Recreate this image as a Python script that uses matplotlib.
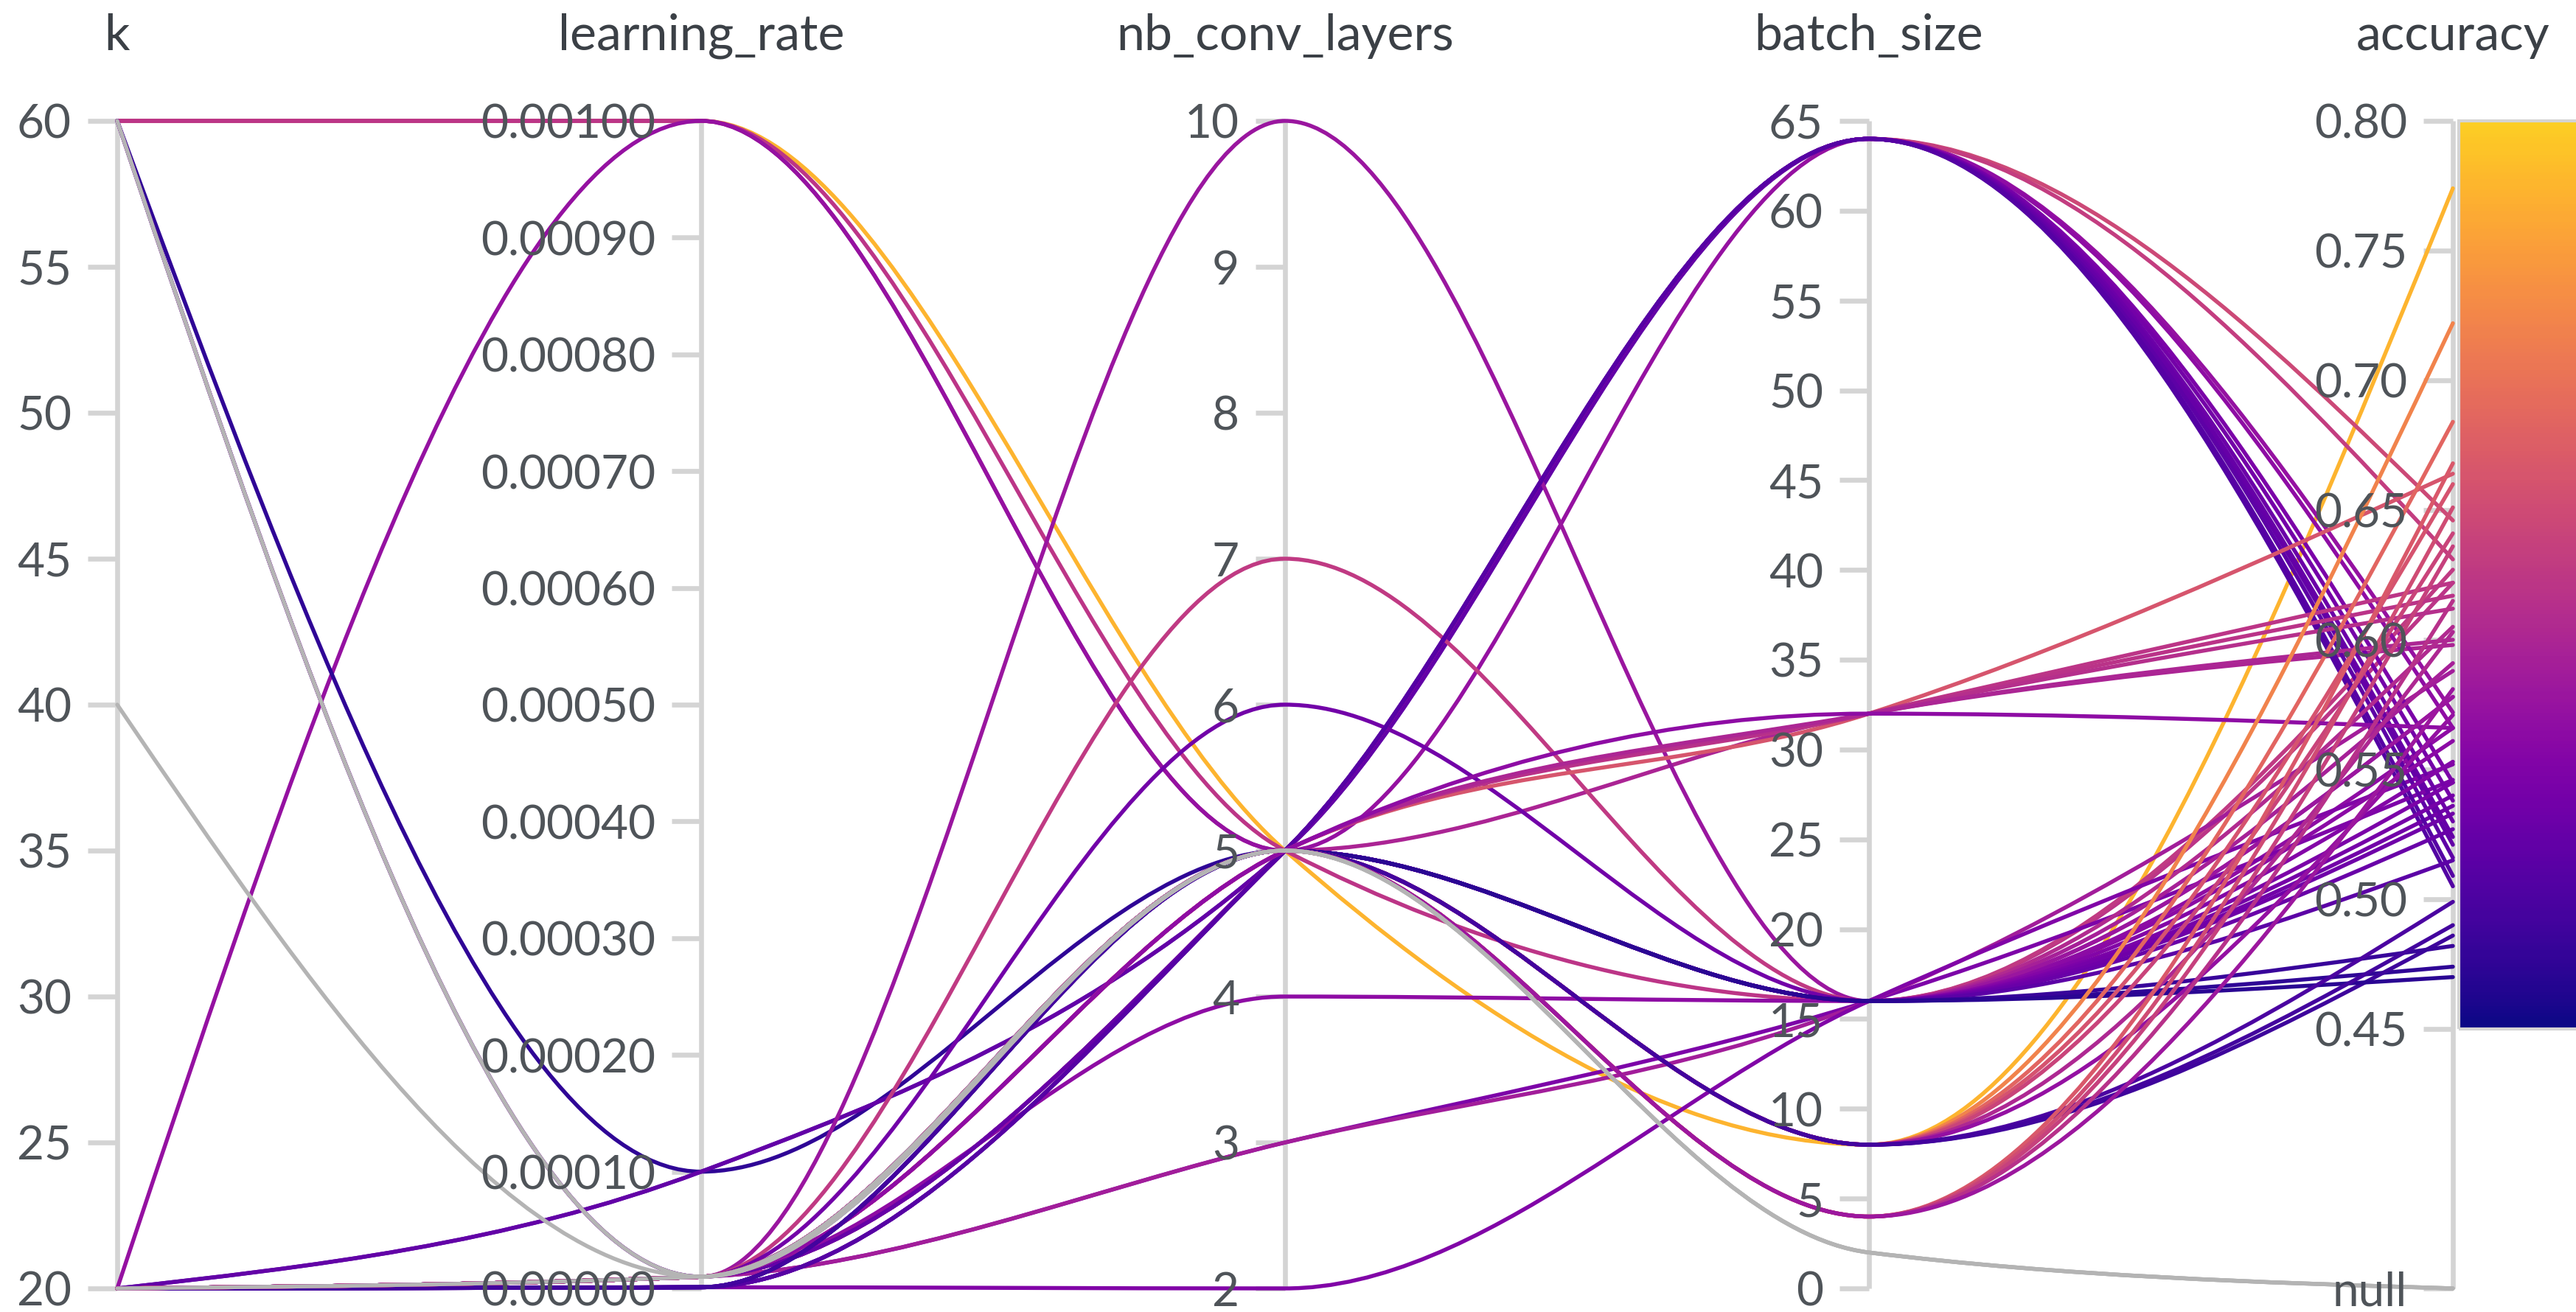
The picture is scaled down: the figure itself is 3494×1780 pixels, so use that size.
import numpy as np
import matplotlib
matplotlib.use("Agg")
import matplotlib.pyplot as plt
from matplotlib.path import Path
from matplotlib.patches import PathPatch, Rectangle
from matplotlib.colors import LinearSegmentedColormap
from matplotlib.transforms import offset_copy, blended_transform_factory

plt.rcParams['font.family'] = ['Lato', 'DejaVu Sans']

# ---- data: one entry per run ----
dimensions = ["k", "learning_rate", "nb_conv_layers", "batch_size", "accuracy"]

k = [60, 60, 60, 20, 60, 20, 20, 60, 40, 20, 60, 60, 20, 20, 20, 20, 20, 20,
     20, 20, 20, 20, 20, 20, 20, 20, 20,
     20, 20, 20, 20, 20, 20,
     20, 20, 20, 20, 20, 20, 20, 20, 20, 20, 20, 20,
     20, 20, 20, 20, 20, 20, 20, 20,
     20, 20, 20, 20, 20]
learning_rate = [0.001, 0.001, 0.001, 0.001, 0.0001, 0.0001, 0.0001,
                 0.00001, 0.00001, 0.00001, 0.00001, 0.00001, 0.00001, 0.00001,
                 0.00001, 0.00001, 0.00001, 0.000001,
                 0.00001, 0.00001, 0.00001, 0.00001, 0.000001, 0.000001, 0.00001, 0.000001, 0.000001,
                 0.00001, 0.00001, 0.00001, 0.00001, 0.00001, 0.00001,
                 0.00001, 0.00001, 0.00001, 0.00001, 0.00001, 0.00001, 0.00001, 0.00001,
                 0.000001, 0.00001, 0.000001, 0.000001,
                 0.00001, 0.00001, 0.00001, 0.00001, 0.00001, 0.00001, 0.000001, 0.000001,
                 0.00001, 0.00001, 0.00001, 0.00001, 0.00001]
nb_conv_layers = [5, 5, 5, 5, 5, 5, 5, 5, 5, 5, 5, 10, 7, 6, 4, 3, 3, 2,
                  5, 5, 5, 5, 5, 5, 5, 5, 5,
                  5, 5, 5, 5, 5, 5,
                  5, 5, 5, 5, 5, 5, 5, 5, 5, 5, 5, 5,
                  5, 5, 5, 5, 5, 5, 5, 5,
                  5, 5, 5, 5, 5]
batch_size = [8, 32, 16, 64, 16, 64, 64, 2, 2, 2, 8, 16, 16, 16, 16, 16, 16, 16,
              64, 64, 64, 64, 64, 64, 64, 64, 64,
              32, 32, 32, 32, 32, 32,
              16, 16, 16, 16, 16, 16, 16, 16, 16, 16, 16, 16,
              8, 8, 8, 8, 8, 8, 8, 8,
              4, 4, 4, 4, 4]
accuracy = [0.774, 0.598, 0.622, 0.572, 0.474, 0.505, 0.521, None, None, None,
            0.486, 0.578, 0.627, 0.536, 0.566, 0.546, 0.588, 0.552,
            0.646, 0.631, 0.566, 0.545, 0.538, 0.530, 0.524, 0.516, 0.509,
            0.664, 0.622, 0.617, 0.612, 0.600, 0.566,
            0.605, 0.591, 0.578, 0.561, 0.553, 0.545, 0.540, 0.533, 0.527, 0.515, 0.482, 0.470,
            0.722, 0.684, 0.660, 0.641, 0.603, 0.571, 0.499, 0.490,
            0.668, 0.651, 0.636, 0.615, 0.581]

# axis domains and tick values
domains = [(20, 60), (0.0, 0.001), (2, 10), (0, 65), (0.35, 0.80)]
k_ticks = [20, 25, 30, 35, 40, 45, 50, 55, 60]
lr_ticks = [0.0, 0.0001, 0.0002, 0.0003, 0.0004, 0.0005, 0.0006, 0.0007, 0.0008, 0.0009, 0.001]
nb_ticks = [2, 3, 4, 5, 6, 7, 8, 9, 10]
bs_ticks = [0, 5, 10, 15, 20, 25, 30, 35, 40, 45, 50, 55, 60, 65]
acc_ticks = [0.45, 0.50, 0.55, 0.60, 0.65, 0.70, 0.75, 0.80]
tick_sets = [k_ticks, lr_ticks, nb_ticks, bs_ticks, acc_ticks]
tick_fmts = ["{:.0f}", "{:.5f}", "{:.0f}", "{:.0f}", "{:.2f}"]
color_range = (0.45, 0.80)

# ---- styling ----
AXIS_GREY = "#d4d4d4"
TICK_TEXT = "#4f5459"
TITLE_TEXT = "#3b4046"
NULL_GREY = "#b4b4b4"
TICK_FS = 46
TITLE_FS = 49
LINE_W = 3.9

W, H, DPI = 3494, 1781, 100
fig = plt.figure(figsize=(W / DPI, H / DPI), dpi=DPI)
fig.patch.set_facecolor("white")
x_left, x_right, y_top, y_bot = 159, 3327, 165, 1749
ax = fig.add_axes([x_left / W, (H - y_bot) / H, (x_right - x_left) / W, (y_bot - y_top) / H])
ax.set_xlim(0, 4)
ax.set_ylim(0, 1)
ax.axis("off")
px_per_x = (x_right - x_left) / 4.0

base = plt.get_cmap("plasma")
cmap = LinearSegmentedColormap.from_list("plasma_cut", base(np.linspace(0.0, 0.9, 256)))


def norm(dim, v):
    lo, hi = domains[dim]
    return (v - lo) / (hi - lo)


def monotone_path(xs, ys):
    """Monotone cubic (d3 curveMonotoneX style) through the points."""
    xs = np.asarray(xs, float)
    ys = np.asarray(ys, float)
    n = len(xs)
    h = np.diff(xs)
    s = np.diff(ys) / h
    sg = lambda v: -1.0 if v < 0 else 1.0
    t = np.zeros(n)
    for i in range(1, n - 1):
        s0, s1 = s[i - 1], s[i]
        p = (s0 * h[i] + s1 * h[i - 1]) / (h[i - 1] + h[i])
        t[i] = (sg(s0) + sg(s1)) * min(abs(s0), abs(s1), 0.5 * abs(p))
    t[0] = (3 * s[0] - t[1]) / 2
    t[-1] = (3 * s[-1] - t[-2]) / 2
    verts = [(xs[0], ys[0])]
    codes = [Path.MOVETO]
    for i in range(n - 1):
        dx = h[i]
        verts += [(xs[i] + dx / 3, ys[i] + dx * t[i] / 3),
                  (xs[i + 1] - dx / 3, ys[i + 1] - dx * t[i + 1] / 3),
                  (xs[i + 1], ys[i + 1])]
        codes += [Path.CURVE4] * 3
    return Path(verts, codes)


# ---- run lines (in run order, runs without accuracy on top) ----
runs = list(zip(k, learning_rate, nb_conv_layers, batch_size, accuracy))
order = sorted(range(len(runs)), key=lambda i: runs[i][4] is None)
for i in order:
    kv, lr, nb, bs, acc = runs[i]
    ys = [norm(0, kv), norm(1, lr), norm(2, nb), norm(3, bs),
          0.0 if acc is None else norm(4, acc)]
    if acc is None:
        col = NULL_GREY
    else:
        col = cmap((acc - color_range[0]) / (color_range[1] - color_range[0]))
    ax.add_patch(PathPatch(monotone_path(range(5), ys), facecolor="none",
                           edgecolor=col, lw=LINE_W, capstyle="round",
                           joinstyle="round", zorder=3, clip_on=False))

# ---- axes, ticks, labels ----
tick_len = 40 / px_per_x
digit_half = 0.7165 * TICK_FS / 2  # half the digit height, in points
for d in range(5):
    ax.plot([d, d], [0, 1], color=AXIS_GREY, lw=4.8, zorder=2, solid_capstyle="butt", clip_on=False)
    labels = [(norm(d, v), tick_fmts[d].format(v)) for v in tick_sets[d]]
    if d == 4:
        labels.append((0.0, "null"))
    lab_tf = offset_copy(ax.transData, fig=fig, x=-62, y=-digit_half * DPI / 72, units="dots")
    for y, txt in labels:
        ax.plot([d - tick_len, d], [y, y], color=AXIS_GREY, lw=4.8, zorder=2,
                solid_capstyle="butt", clip_on=False)
        ax.text(d, y, txt, transform=lab_tf, ha="right", va="baseline",
                fontsize=TICK_FS, color=TICK_TEXT, zorder=5, clip_on=False)
    ax.text(d, 1 - 68 / H, dimensions[d],
            transform=blended_transform_factory(ax.transData, fig.transFigure),
            ha="center", va="baseline", fontsize=TITLE_FS, color=TITLE_TEXT)

# ---- colour scale beside the accuracy axis ----
cb_x0 = 4 + 8 / px_per_x
cb_x1 = 4 + 240 / px_per_x
cb_y0 = norm(4, color_range[0])
grad = np.linspace(1, 0, 256).reshape(-1, 1)
im = ax.imshow(grad, cmap=cmap, aspect="auto", extent=[cb_x0, cb_x1, cb_y0, 1.0],
               interpolation="bilinear", zorder=1)
im.set_clip_on(False)
ax.add_patch(Rectangle((cb_x0, cb_y0), cb_x1 - cb_x0, 1.0 - cb_y0, facecolor="none",
                       edgecolor=AXIS_GREY, lw=3, zorder=1.5, clip_on=False))

fig.savefig("out.png", dpi=DPI, facecolor="white")
